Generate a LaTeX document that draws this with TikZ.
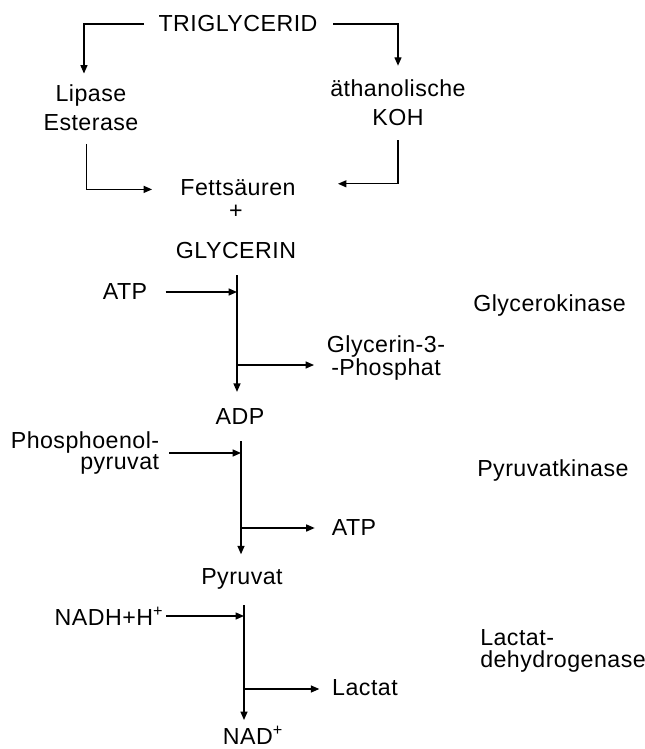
\documentclass[tikz,border=0pt]{standalone}
\usepackage{fontspec}
\setmainfont{Liberation Sans}[LetterSpace=2.0]
\usetikzlibrary{arrows.meta}
\tikzset{
  lbl/.style={inner sep=0pt, font=\fontsize{16.5}{20.5}\selectfont},
  rxn/.style={line width=0.9pt, -{Triangle[length=6pt,width=5pt]}},
}

\begin{document}
\begin{tikzpicture}[x=0.025cm, y=-0.025cm]
    \useasboundingbox (0,0) rectangle (644,749);

    % Hydrolyse
    \node[lbl] (trig) at (238,24) {TRIGLYCERID};
    \node[lbl, align=center] (lip) at (91,108) {Lipase\\Esterase};
    \node[lbl, align=center] (koh) at (398,103) {äthanolische\\KOH};
    \node[lbl] (fett) at (238,188) {Fettsäuren};
    \node[lbl] (plus) at (236,212) {+};
    \node[lbl] (glyc) at (236,251) {GLYCERIN};

    \draw[rxn, shorten <=10pt, shorten >=8pt] (trig.west) -| ([xshift=-5pt]lip.north);
    \draw[rxn, shorten <=11pt, shorten >=10pt] (trig.east) -| (koh.north);
    \draw[rxn, shorten <=9pt, shorten >=20pt] ([xshift=-3pt]lip.south) |- ([yshift=-1pt]fett.west);
    \draw[rxn, shorten <=10pt, shorten >=30pt] (koh.south) |- ([yshift=3pt]fett.east);

    % Glycerokinase
    \coordinate (s1) at (237,275);
    \coordinate (b1) at (237,365);
    \node[lbl] (atpa) at (125,292) {ATP};
    \node[lbl, align=center, font=\fontsize{16.5}{14.5}\selectfont] (gp) at (386,358) {Glycerin-3-\\-Phosphat};
    \node[lbl] (adp) at (240,417) {ADP};
    \node[lbl, anchor=west] (gk) at (473,305) {Glycerokinase};

    \draw[rxn, shorten <=13pt] (atpa.east) -- (atpa.east -| s1);
    \draw[rxn, shorten >=12pt] (s1) -- (s1 |- adp.north);
    \draw[rxn, shorten >=9pt] (b1) -- (b1 -| gp.west);

    % Pyruvatkinase
    \coordinate (s2) at (241,441);
    \coordinate (b2) at (241,528);
    \node[lbl, align=right, font=\fontsize{16.5}{15}\selectfont] (pep) at (85,453) {Phosphoenol-\\pyruvat};
    \node[lbl] (atpb) at (354,528) {ATP};
    \node[lbl] (pyr) at (242,579) {Pyruvat};
    \node[lbl, anchor=west] (pk) at (477,470) {Pyruvatkinase};

    \draw[rxn, shorten <=7pt] (pep.east) -- (pep.east -| s2);
    \draw[rxn, shorten >=10pt] (s2) -- (s2 |- pyr.north);
    \draw[rxn, shorten >=12pt] (b2) -- (atpb.west);

    % Lactatdehydrogenase
    \coordinate (s3) at (244,605);
    \coordinate (b3) at (244,689);
    \node[lbl] (nadh) at (109,616) {NADH+H\textsuperscript{+}};
    \node[lbl] (lac) at (365,688) {Lactat};
    \node[lbl] (nad) at (253,735) {NAD\textsuperscript{+}};
    \node[lbl, anchor=west, align=left, font=\fontsize{16.5}{15.5}\selectfont] (ldh) at (480,651) {Lactat-\\dehydrogenase};

    \draw[rxn, shorten <=2pt] (nadh.east) -- (nadh.east -| s3);
    \draw[rxn, shorten >=4pt] (s3) -- (s3 |- nad.north);
    \draw[rxn, shorten >=9pt] (b3) -- (b3 -| lac.west);
\end{tikzpicture}
\end{document}
